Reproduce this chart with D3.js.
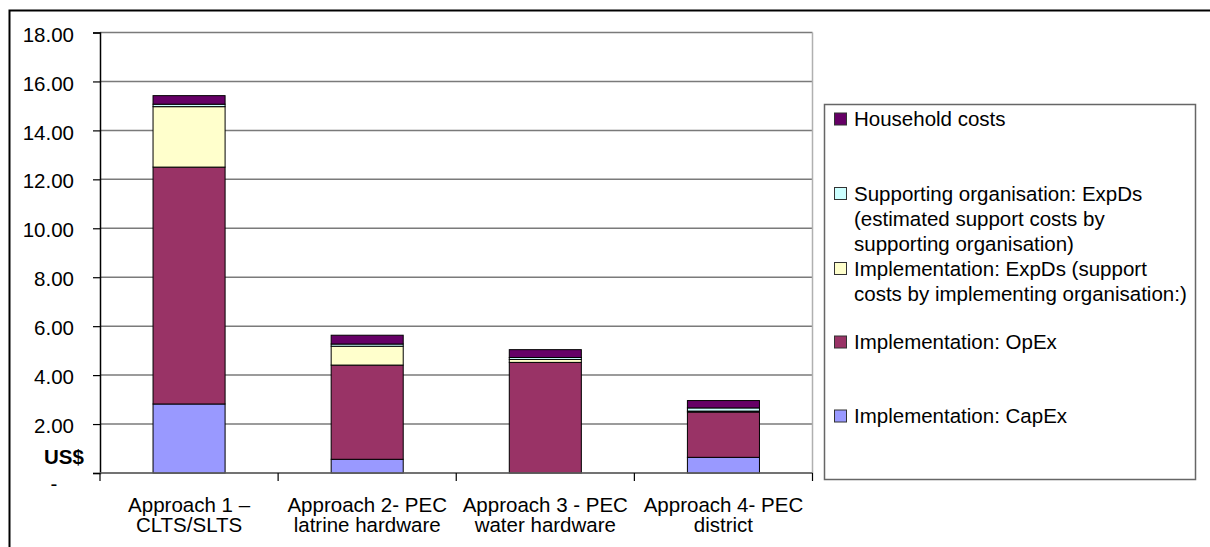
<!DOCTYPE html>
<html>
<head>
<meta charset="utf-8">
<script src="https://cdn.jsdelivr.net/npm/d3@7"></script>
<style>
  html, body { margin: 0; padding: 0; background: #fff; }
  svg { display: block; }
  text { font-family: "Liberation Sans", Arial, sans-serif; fill: #000; }
</style>
</head>
<body>
<svg id="chart" width="1210" height="547"></svg>
<script>
// Cost per person by approach, stacked by cost component (US$)
const categories = [
  ["Approach 1 \u2013", "CLTS/SLTS"],
  ["Approach 2- PEC", "latrine hardware"],
  ["Approach 3 - PEC", "water hardware"],
  ["Approach 4- PEC", "district"]
];
const capex        = [2.82, 0.56, 0.00, 0.64];
const opex         = [9.68, 3.85, 4.52, 1.85];
const implExpDs    = [2.47, 0.77, 0.12, 0.04];
const supportExpDs = [0.10, 0.09, 0.08, 0.13];
const household    = [0.35, 0.36, 0.32, 0.30];

const seriesKeys = ["capex", "opex", "implExpDs", "supportExpDs", "household"];
const seriesLabels = [
  ["Implementation: CapEx"],
  ["Implementation: OpEx"],
  ["Implementation: ExpDs (support", "costs by implementing organisation:)"],
  ["Supporting organisation: ExpDs", "(estimated support costs by", "supporting organisation)"],
  ["Household costs"]
];
const seriesColors = ["#9999ff", "#993366", "#ffffcc", "#ccffff", "#660066"];
const yTicks = [0, 2, 4, 6, 8, 10, 12, 14, 16, 18];

const rows = categories.map((c, i) => ({
  key: c.join(" "),
  capex: capex[i], opex: opex[i], implExpDs: implExpDs[i],
  supportExpDs: supportExpDs[i], household: household[i]
}));

const svg = d3.select("#chart");
const FONT = "20.5px";

// outer frame
svg.append("path").attr("d", "M9.5,547 V10.5 H1210")
  .attr("fill", "none").attr("stroke", "#000").attr("stroke-width", 2);

const plot = { left: 100, right: 812.5, top: 32.5, bottom: 473 };

const x = d3.scaleBand()
  .domain(rows.map(d => d.key))
  .range([plot.left, plot.right])
  .paddingInner(0.5955)
  .paddingOuter(0.29775);

const y = d3.scaleLinear().domain([0, 18]).range([plot.bottom, plot.top]);

// gridlines
svg.append("g").selectAll("line").data(yTicks).join("line")
  .attr("x1", plot.left).attr("x2", plot.right)
  .attr("y1", d => y(d)).attr("y2", d => y(d))
  .attr("stroke", "#7a7a7a").attr("stroke-width", 1.5);

// right border of the plot area
svg.append("line")
  .attr("x1", plot.right).attr("x2", plot.right)
  .attr("y1", plot.top).attr("y2", plot.bottom)
  .attr("stroke", "#b0b0b0").attr("stroke-width", 1.5);

// stacked bars
const stack = d3.stack().keys(seriesKeys)(rows);
svg.append("g").selectAll("g").data(stack).join("g")
  .attr("fill", (d, i) => seriesColors[i])
  .selectAll("rect").data(d => d).join("rect")
  .attr("x", d => x(d.data.key))
  .attr("width", x.bandwidth())
  .attr("y", d => y(d[1]))
  .attr("height", d => y(d[0]) - y(d[1]))
  .attr("stroke", "#000").attr("stroke-width", 1);

// y axis
const yAxis = svg.append("g")
  .attr("transform", `translate(${plot.left},0)`)
  .call(d3.axisLeft(y).tickValues(yTicks).tickSize(7).tickPadding(19)
    .tickFormat(d => d === 0 ? "-" : d3.format(".2f")(d)));
yAxis.select(".domain").attr("stroke", "#000").attr("stroke-width", 1.5);
yAxis.selectAll(".tick line").attr("stroke", "#000").attr("stroke-width", 1.2);
yAxis.selectAll(".tick text")
  .style("font-size", FONT)
  .attr("dy", d => d === 0 ? "0.85em" : "0.42em")
  .attr("x", d => d === 0 ? -46 : -26)
  .attr("text-anchor", d => d === 0 ? "middle" : "end");

// unit label
svg.append("text")
  .attr("x", 44).attr("y", 464)
  .style("font-size", FONT).style("font-weight", "bold")
  .text("US$");

// x axis line and category boundary ticks
svg.append("line")
  .attr("x1", plot.left).attr("x2", plot.right)
  .attr("y1", plot.bottom).attr("y2", plot.bottom)
  .attr("stroke", "#666").attr("stroke-width", 1.5);
const step = x.step();
const bounds = d3.range(categories.length + 1).map(i => plot.left + i * step);
svg.append("g").selectAll("line").data(bounds).join("line")
  .attr("x1", d => d).attr("x2", d => d)
  .attr("y1", plot.bottom).attr("y2", plot.bottom + 8)
  .attr("stroke", "#000").attr("stroke-width", 1.2);

// category labels
svg.append("g").selectAll("text").data(rows).join("text")
  .attr("text-anchor", "middle")
  .style("font-size", FONT)
  .each(function (d, i) {
    const cx = x(d.key) + x.bandwidth() / 2;
    d3.select(this).selectAll("tspan").data(categories[i]).join("tspan")
      .attr("x", cx)
      .attr("y", (t, j) => 512 + j * 20)
      .text(t => t);
  });

// legend
const legend = svg.append("g");
legend.append("rect")
  .attr("x", 824.5).attr("y", 104.5).attr("width", 371).attr("height", 375)
  .attr("fill", "#fff").attr("stroke", "#666").attr("stroke-width", 1.5);
const legendBaselines = [423, 349, 275.5, 200.5, 126];
const entries = legend.selectAll("g.entry").data(seriesKeys).join("g").attr("class", "entry");
entries.append("rect")
  .attr("x", 834.5).attr("y", (d, i) => legendBaselines[i] - 13)
  .attr("width", 12).attr("height", 12)
  .attr("fill", (d, i) => seriesColors[i])
  .attr("stroke", "#333").attr("stroke-width", 1);
entries.append("text")
  .style("font-size", FONT)
  .each(function (d, i) {
    d3.select(this).selectAll("tspan").data(seriesLabels[i]).join("tspan")
      .attr("x", 854)
      .attr("y", (t, j) => legendBaselines[i] + j * 25)
      .text(t => t);
  });
</script>
</body>
</html>
